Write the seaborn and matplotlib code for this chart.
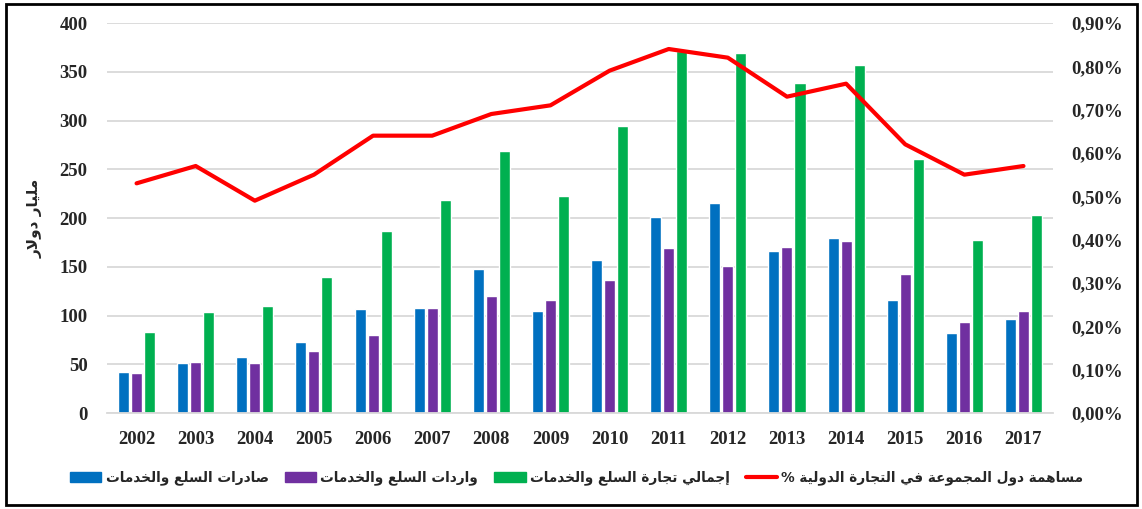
import numpy as np
import pandas as pd
import matplotlib
matplotlib.use("Agg")
import matplotlib.pyplot as plt
import seaborn as sns
from matplotlib.patches import Patch, Rectangle
from matplotlib.lines import Line2D
from matplotlib.ticker import FuncFormatter, MultipleLocator

# data
years = ["2002", "2003", "2004", "2005", "2006", "2007", "2008", "2009",
         "2010", "2011", "2012", "2013", "2014", "2015", "2016", "2017"]
exports = [42, 51, 57, 73, 107, 108, 148, 105, 157, 201, 215, 166, 179, 116, 82, 96]
imports = [41, 52, 51, 64, 80, 108, 120, 116, 136, 169, 151, 170, 176, 143, 93, 105]
total = [83, 104, 110, 139, 187, 218, 269, 223, 294, 371, 369, 338, 357, 261, 177, 203]
share_pct = [0.53, 0.57, 0.49, 0.55, 0.64, 0.64, 0.69, 0.71, 0.79, 0.84, 0.82, 0.73, 0.76, 0.62, 0.55, 0.57]

lbl_exp = "صادرات السلع والخدمات"
lbl_imp = "واردات السلع والخدمات"
lbl_tot = "إجمالي تجارة السلع والخدمات"
lbl_share = "مساهمة دول المجموعة في التجارة الدولية %"
ylabel = "مليار دولار"

# matplotlib has no arabic shaping, so do a small one by hand
FORMS = {
    'ا': ('\uFE8D', '\uFE8E', None, None),
    'إ': ('\uFE87', '\uFE88', None, None),
    'ة': ('\uFE93', '\uFE94', None, None),
    'ت': ('\uFE95', '\uFE96', '\uFE97', '\uFE98'),
    'ج': ('\uFE9D', '\uFE9E', '\uFE9F', '\uFEA0'),
    'خ': ('\uFEA5', '\uFEA6', '\uFEA7', '\uFEA8'),
    'د': ('\uFEA9', '\uFEAA', None, None),
    'ر': ('\uFEAD', '\uFEAE', None, None),
    'س': ('\uFEB1', '\uFEB2', '\uFEB3', '\uFEB4'),
    'ص': ('\uFEB9', '\uFEBA', '\uFEBB', '\uFEBC'),
    'ع': ('\uFEC9', '\uFECA', '\uFECB', '\uFECC'),
    'ف': ('\uFED1', '\uFED2', '\uFED3', '\uFED4'),
    'ل': ('\uFEDD', '\uFEDE', '\uFEDF', '\uFEE0'),
    'م': ('\uFEE1', '\uFEE2', '\uFEE3', '\uFEE4'),
    'ه': ('\uFEE9', '\uFEEA', '\uFEEB', '\uFEEC'),
    'و': ('\uFEED', '\uFEEE', None, None),
    'ي': ('\uFEF1', '\uFEF2', '\uFEF3', '\uFEF4'),
}


def shape(txt):
    out = []
    i = 0
    prev_joins = False
    while i < len(txt):
        c = txt[i]
        if c not in FORMS:
            out.append(c)
            prev_joins = False
            i += 1
            continue
        nxt = txt[i + 1] if i + 1 < len(txt) else ''
        if c == 'ل' and nxt == 'ا':
            out.append('\uFEFC' if prev_joins else '\uFEFB')
            prev_joins = False
            i += 2
            continue
        f = FORMS[c]
        joins_next = f[2] is not None and nxt in FORMS
        if prev_joins and joins_next:
            out.append(f[3])
        elif prev_joins:
            out.append(f[1])
        elif joins_next:
            out.append(f[2])
        else:
            out.append(f[0])
        prev_joins = f[2] is not None
        i += 1
    return ''.join(out)[::-1]


blue, purple, green, red = "#0070C0", "#7030A0", "#00B050", "#FF0000"

df = pd.DataFrame({
    "year": years * 3,
    "value": exports + imports + total,
    "series": ["exp"] * 16 + ["imp"] * 16 + ["tot"] * 16,
})

sns.set_style("white")
plt.rcParams['font.family'] = ['Liberation Serif', 'DejaVu Sans']

fig = plt.figure(figsize=(11.42, 5.09), dpi=100)
ax = fig.add_axes([0.0937, 0.1886, 0.8284, 0.7662])

sns.barplot(data=df, x="year", y="value", hue="series",
            palette=[blue, purple, green], saturation=1, width=0.66, gap=0.15,
            legend=False, ax=ax)
ax.set_ylim(0, 400)
ax.set_xlim(-0.5, len(years) - 0.5)
ax.yaxis.set_major_locator(MultipleLocator(50))
ax.yaxis.grid(True, color="#d9d9d9", lw=1.3)
ax.set_axisbelow(True)
for s in ["top", "left", "right"]:
    ax.spines[s].set_visible(False)
ax.spines["bottom"].set_color("#d9d9d9")
ax.spines["bottom"].set_linewidth(1.3)
ax.tick_params(axis="both", length=0, labelsize=13.5)
ax.tick_params(axis="y", pad=14)
ax.tick_params(axis="x", pad=13)
for t in ax.get_xticklabels() + ax.get_yticklabels():
    t.set_fontweight("bold")
ax.set_xlabel("")
ax.set_ylabel(shape(ylabel), family="DejaVu Sans", fontweight="bold", fontsize=11)
ax.yaxis.set_label_coords(-0.068, 0.5)

ax2 = ax.twinx()
sns.lineplot(x=np.arange(len(years)), y=share_pct, color=red, lw=3, ax=ax2)
ax2.set_ylim(0, 0.9)
ax2.yaxis.set_major_locator(MultipleLocator(0.1))
ax2.yaxis.set_major_formatter(FuncFormatter(lambda v, p: f"{v:.2f}%".replace(".", ",")))
for s in ax2.spines.values():
    s.set_visible(False)
ax2.tick_params(axis="y", length=0, labelsize=13.5, pad=13)
for t in ax2.get_yticklabels():
    t.set_fontweight("bold")

handles = [
    Patch(color=blue, label=shape(lbl_exp)),
    Patch(color=purple, label=shape(lbl_imp)),
    Patch(color=green, label=shape(lbl_tot)),
    Line2D([], [], color=red, lw=3, label=shape(lbl_share)),
]
fig.legend(handles=handles, loc="center", bbox_to_anchor=(0.505, 0.061), ncol=4,
           frameon=False, prop={"family": "DejaVu Sans", "weight": "bold", "size": 9.8},
           handlelength=2.3, handletextpad=0.3, columnspacing=1.2)

fig.patches.append(Rectangle((0.005, 0.008), 0.991, 0.985, transform=fig.transFigure,
                             fill=False, edgecolor="black", lw=2))

fig.savefig("out.png", dpi=100)
